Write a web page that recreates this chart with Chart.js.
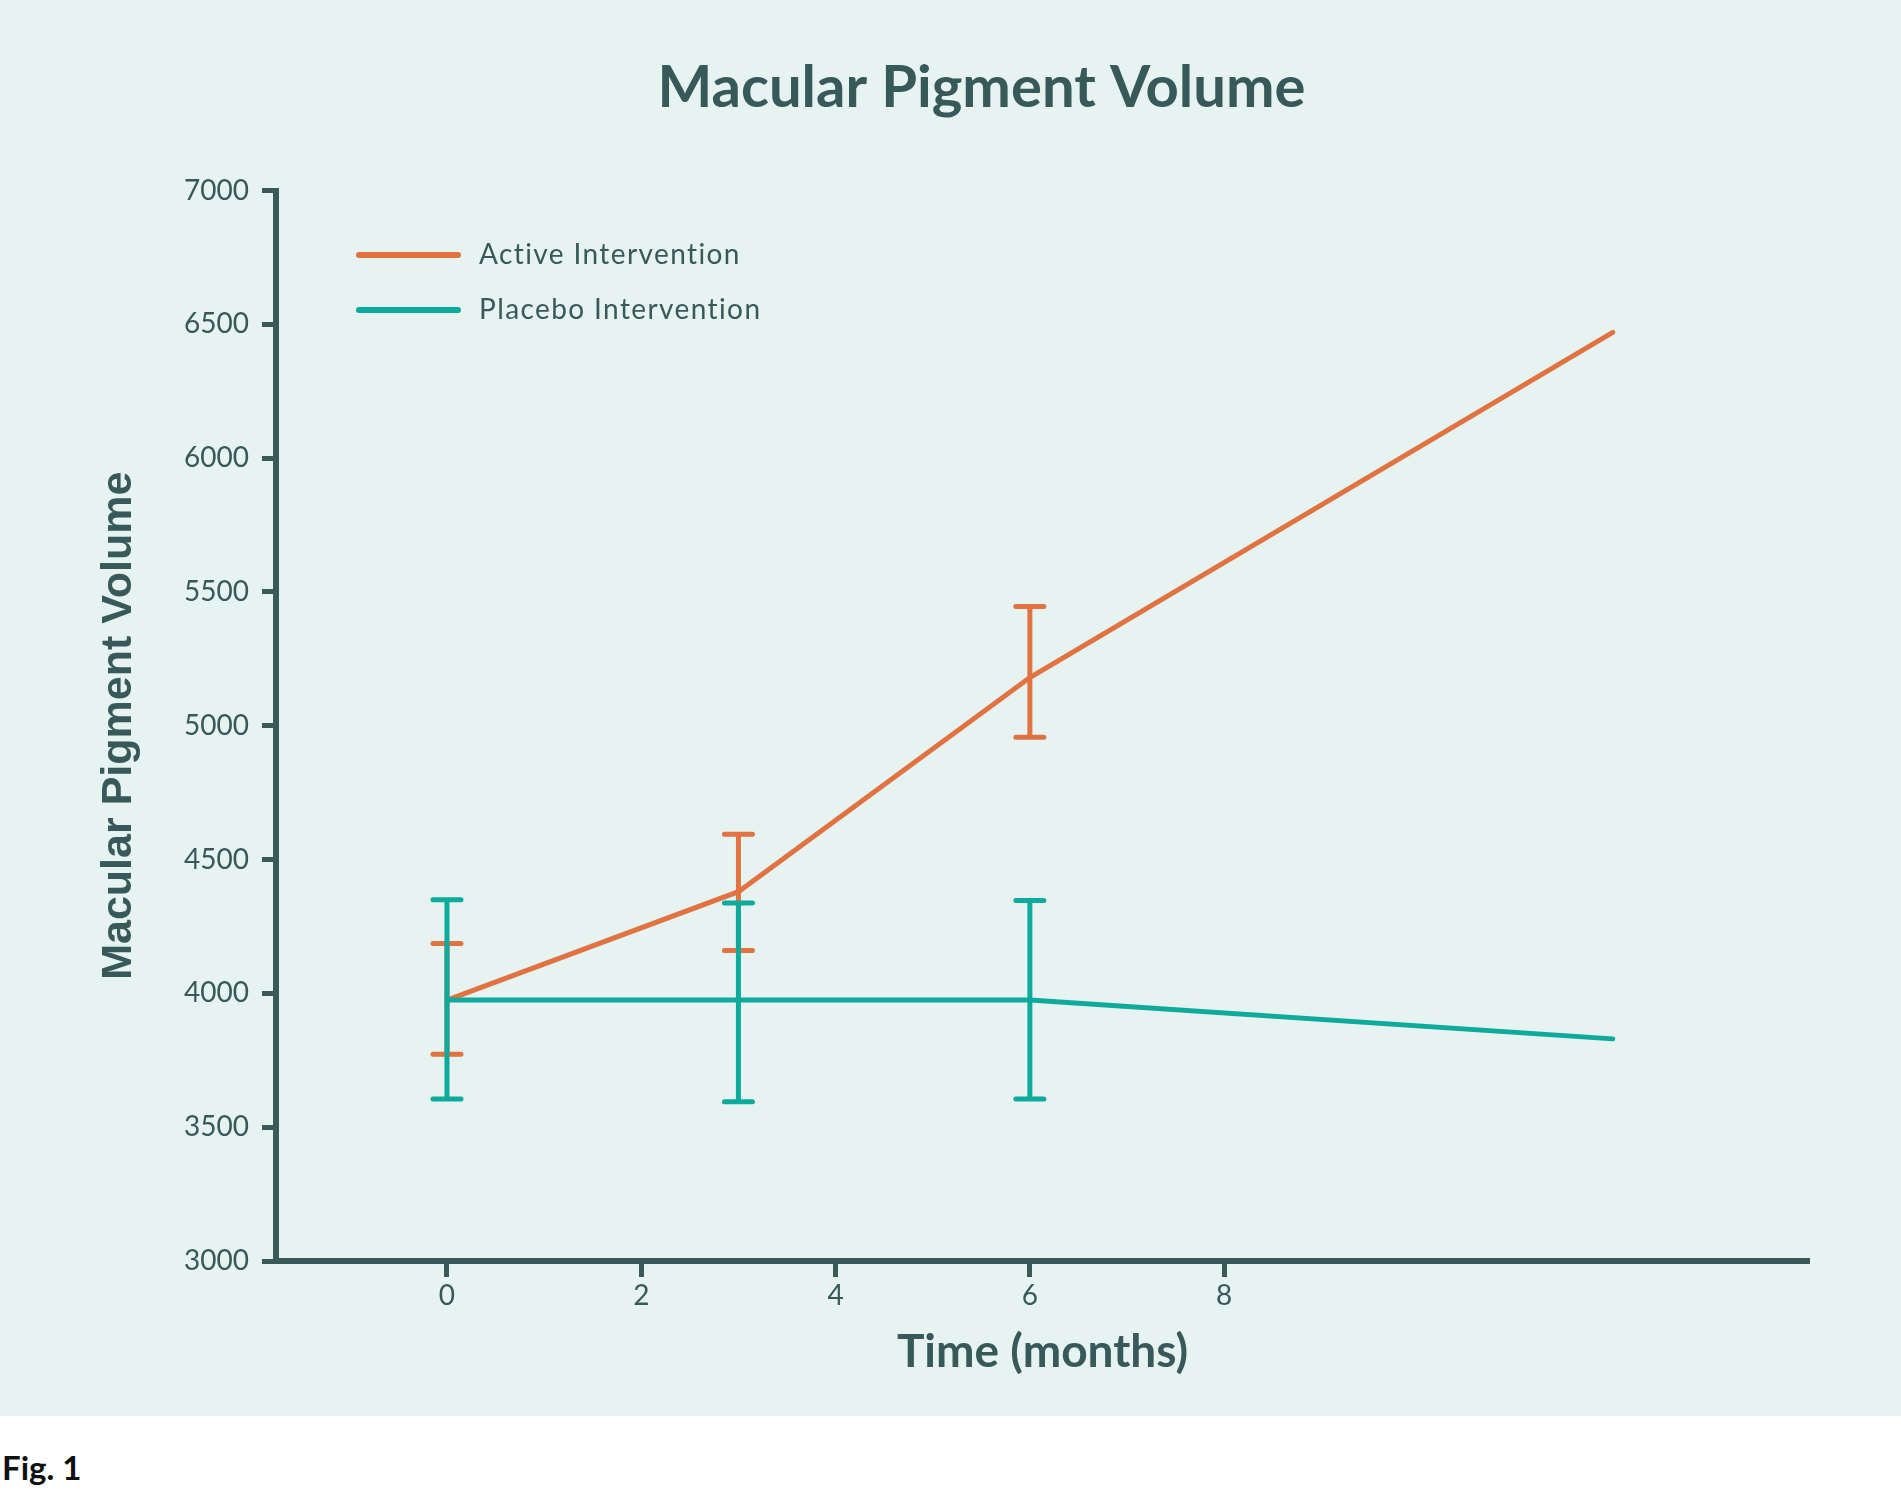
<!DOCTYPE html>
<html><head><meta charset="utf-8">
<script src="https://cdn.jsdelivr.net/npm/chart.js@4.4.0/dist/chart.umd.min.js"></script>
<style>
html,body{margin:0;padding:0;background:#ffffff;}
#wrap{position:relative;width:1901px;height:1416px;background:#E6F3F0;}
#fig{position:absolute;left:2px;top:1451px;font-family:Lato, "Open Sans", sans-serif;font-weight:bold;font-size:33px;line-height:33px;color:#111;}
</style></head><body>
<div id="wrap"><canvas id="c" width="1901" height="1416" style="width:1901px;height:1416px;display:block"></canvas></div>
<div id="fig">Fig. 1</div>
<script>
// ---- data ----
const months = [0, 3, 6, 12];
const activeValues = [3975, 4380, 5180, 6470];
const activeLow = [3773, 4160, 4957, null];
const activeHigh = [4186, 4595, 5446, null];
const placeboValues = [3975, 3975, 3975, 3830];
const placeboLow = [3605, 3595, 3605, null];
const placeboHigh = [4350, 4338, 4347, null];
const seriesNames = ['Active Intervention', 'Placebo Intervention'];
const xTicks = [0, 2, 4, 6, 8];
const yTicks = [3000, 3500, 4000, 4500, 5000, 5500, 6000, 6500, 7000];

const TEXT = '#385959';
const AXIS = '#3A5A5A';
const ORANGE = '#E07341';
const TEAL = '#0EAA9B';

const errorBars = {
  id: 'errorBars',
  afterDatasetDraw(chart, args) {
    const ds = chart.data.datasets[args.index];
    if (!ds.errLow) return;
    const xs = chart.scales.x, ys = chart.scales.y, ctx = chart.ctx;
    ctx.save();
    ctx.strokeStyle = ds.borderColor;
    ctx.lineWidth = 5;
    ctx.lineCap = 'round';
    ds.data.forEach((p, i) => {
      const lo = ds.errLow[i], hi = ds.errHigh[i];
      if (lo == null || hi == null) return;
      const x = xs.getPixelForValue(p.x);
      const y1 = ys.getPixelForValue(lo), y2 = ys.getPixelForValue(hi);
      ctx.beginPath();
      ctx.moveTo(x, y1); ctx.lineTo(x, y2);
      ctx.moveTo(x - 14, y1); ctx.lineTo(x + 14, y1);
      ctx.moveTo(x - 14, y2); ctx.lineTo(x + 14, y2);
      ctx.stroke();
    });
    ctx.restore();
  }
};

const customLegend = {
  id: 'customLegend',
  afterDraw(chart) {
    const ctx = chart.ctx, a = chart.chartArea;
    ctx.save();
    chart.data.datasets.forEach((ds, i) => {
      const y = a.top + 64.5 + i * 55;
      ctx.strokeStyle = ds.borderColor;
      ctx.lineWidth = 6;
      ctx.lineCap = 'round';
      ctx.beginPath();
      ctx.moveTo(a.left + 83, y); ctx.lineTo(a.left + 182, y);
      ctx.stroke();
      ctx.fillStyle = TEXT;
      ctx.font = '400 28px Lato, sans-serif';
      try { ctx.letterSpacing = '1.4px'; } catch (e) {}
      ctx.textAlign = 'left';
      ctx.textBaseline = 'middle';
      ctx.fillText(ds.label, a.left + 203, y);
    });
    ctx.restore();
  }
};

const toPoints = vals => months.map((m, i) => ({x: m, y: vals[i]}));

new Chart(document.getElementById('c'), {
  type: 'line',
  data: {
    datasets: [
      {label: seriesNames[0], data: toPoints(activeValues), errLow: activeLow, errHigh: activeHigh,
       borderColor: ORANGE, backgroundColor: ORANGE, borderWidth: 5, pointRadius: 0,
       borderCapStyle: 'round', tension: 0, fill: false, order: 1},
      {label: seriesNames[1], data: toPoints(placeboValues), errLow: placeboLow, errHigh: placeboHigh,
       borderColor: TEAL, backgroundColor: TEAL, borderWidth: 5, pointRadius: 0,
       borderCapStyle: 'round', tension: 0, fill: false, order: 0}
    ]
  },
  options: {
    responsive: false,
    devicePixelRatio: 1,
    animation: false,
    layout: {padding: {left: 62, right: 0, top: 0, bottom: 0}},
    plugins: {
      legend: {display: false},
      tooltip: {enabled: false},
      title: {
        display: true, text: 'Macular Pigment Volume', color: TEXT,
        font: {family: 'Lato', size: 58, weight: 'bold', lineHeight: 1.2},
        padding: {top: 53.6, bottom: 67.3}
      }
    },
    scales: {
      x: {
        type: 'linear', position: 'bottom', min: -1.76, max: 14.02,
        afterBuildTicks: s => { s.ticks = xTicks.map(v => ({value: v})); },
        afterFit: s => { s.height = 155; },
        ticks: {color: TEXT, font: {family: 'Lato', size: 28, weight: '400', lineHeight: 1.2}, padding: 2,
                maxRotation: 0, autoSkip: false, callback: v => String(v)},
        grid: {display: true, drawOnChartArea: false, drawTicks: true, tickLength: 16, tickWidth: 5, tickColor: AXIS},
        border: {display: true, width: 6, color: AXIS},
        title: {display: true, text: 'Time (months)', color: TEXT,
                font: {family: 'Lato', size: 46, weight: 'bold', lineHeight: 1.2}, padding: {top: 0, bottom: 36}}
      },
      y: {
        type: 'linear', position: 'left', min: 3000, max: 7000,
        afterBuildTicks: s => { s.ticks = yTicks.map(v => ({value: v})); },
        afterFit: s => { s.width = 214; },
        ticks: {color: TEXT, font: {family: 'Lato', size: 28, weight: '400', lineHeight: 1.2}, padding: 13,
                autoSkip: false, callback: v => String(v)},
        grid: {display: true, drawOnChartArea: false, drawTicks: true, tickLength: 14, tickWidth: 5, tickColor: AXIS},
        border: {display: true, width: 6, color: AXIS},
        title: {display: true, text: 'Macular Pigment Volume', color: TEXT,
                font: {family: 'Liberation Sans', size: 43, weight: 'bold', lineHeight: 1.2}, padding: {top: 31, bottom: 0}}
      },
      yRight: {
        type: 'linear', position: 'right', display: true, min: 0, max: 1,
        afterFit: s => { s.width = 92; },
        ticks: {display: false},
        grid: {display: false, drawTicks: false},
        border: {display: false}
      }
    }
  },
  plugins: [errorBars, customLegend]
});
</script>
</body></html>
